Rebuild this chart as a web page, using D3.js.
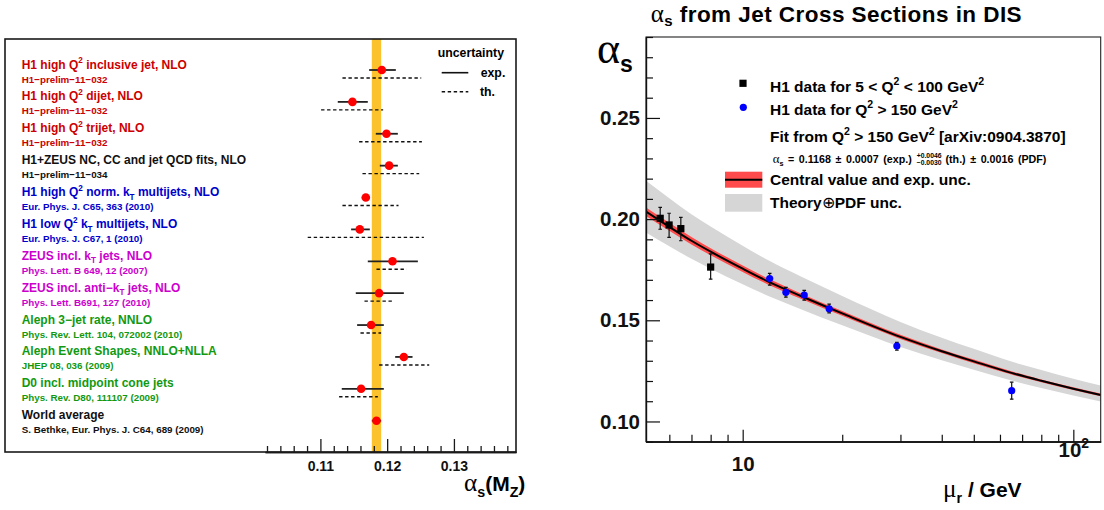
<!DOCTYPE html>
<html>
<head>
<meta charset="utf-8">
<script src="https://cdn.jsdelivr.net/npm/d3@7"></script>
<style>
  body { margin: 0; background: #fff; }
  text { font-family: "Liberation Sans", Arial, sans-serif; font-weight: bold; }
</style>
</head>
<body>
<script>
// ---- left panel: alpha_s(MZ) summary ----
let titles = [
  "H1 high Q^{2} inclusive jet, NLO",
  "H1 high Q^{2} dijet, NLO",
  "H1 high Q^{2} trijet, NLO",
  "H1+ZEUS NC, CC and jet QCD fits, NLO",
  "H1 high Q^{2} norm. k_{T} multijets, NLO",
  "H1 low Q^{2} k_{T} multijets, NLO",
  "ZEUS incl. k_{T} jets, NLO",
  "ZEUS incl. anti\u2212k_{T} jets, NLO",
  "Aleph 3\u2212jet rate, NNLO",
  "Aleph Event Shapes, NNLO+NLLA",
  "D0 incl. midpoint cone jets",
  "World average"
];
let refs = [
  "H1\u2212prelim\u221211\u2212032",
  "H1\u2212prelim\u221211\u2212032",
  "H1\u2212prelim\u221211\u2212032",
  "H1\u2212prelim\u221211\u2212034",
  "Eur. Phys. J. C65, 363 (2010)",
  "Eur. Phys. J. C67, 1 (2010)",
  "Phys. Lett. B 649, 12 (2007)",
  "Phys. Lett. B691, 127 (2010)",
  "Phys. Rev. Lett. 104, 072002 (2010)",
  "JHEP 08, 036 (2009)",
  "Phys. Rev. D80, 111107 (2009)",
  "S. Bethke, Eur. Phys. J. C64, 689 (2009)"
];
let groups = ["H1 prelim", "H1 prelim", "H1 prelim", "H1+ZEUS", "H1", "H1",
  "ZEUS", "ZEUS", "Aleph", "Aleph", "D0", "World"];
let alphaValues = [0.1192, 0.1148, 0.1199, 0.1203, 0.1168, 0.1159, 0.1208, 0.1188, 0.1176, 0.1225, 0.1161, 0.1184];
let expLow  = [0.1173, 0.1126, 0.1183, 0.1189, 0.1162, 0.1146, 0.1171, 0.1153, 0.1155, 0.1212, 0.1132, 0.1177];
let expHigh = [0.1213, 0.1171, 0.1216, 0.1216, 0.1174, 0.1174, 0.1246, 0.1225, 0.1195, 0.1238, 0.1195, 0.1191];
let thLow   = [0.1133, 0.1101, 0.1158, 0.1163, 0.1133, 0.1081, 0.1184, 0.1166, 0.1160, 0.1188, 0.1128, null];
let thHigh  = [0.1251, 0.1194, 0.1252, 0.1248, 0.1217, 0.1255, 0.1229, 0.1208, 0.1191, 0.1263, 0.1186, null];
let worldBand = [0.1177, 0.1191];
let leftMajorTicks = [0.11, 0.12, 0.13];
let leftTickLabels = ["0.11", "0.12", "0.13"];

// ---- right panel: running alpha_s ----
let lowQ2Mu    = [5.63, 5.99, 6.50, 8.00];
let lowQ2Alpha = [0.2004, 0.1971, 0.1953, 0.1763];
let lowQ2Up    = [0.2058, 0.2029, 0.2009, 0.1828];
let lowQ2Down  = [0.1950, 0.1910, 0.1893, 0.1703];
let highQ2Mu    = [12.07, 13.51, 15.35, 18.26, 29.26, 65.1];
let highQ2Alpha = [0.1706, 0.1638, 0.1625, 0.1557, 0.1373, 0.1152];
let highQ2Up    = [0.1732, 0.1663, 0.1648, 0.1580, 0.1391, 0.1194];
let highQ2Down  = [0.1674, 0.1614, 0.1600, 0.1537, 0.1353, 0.1110];
let fitMu      = [5.1, 6, 7, 8, 10, 12, 15, 20, 30, 40, 50, 65, 80, 100, 121];
let fitCentral = [0.2037, 0.1962, 0.1893, 0.1839, 0.1755, 0.1690, 0.1620, 0.1534, 0.1418, 0.1347, 0.1297, 0.1240, 0.1201, 0.1162, 0.1131];
let expBandUp  = [0.2058, 0.1982, 0.1911, 0.1856, 0.1771, 0.1705, 0.1633, 0.1546, 0.1428, 0.1356, 0.1306, 0.1248, 0.1208, 0.1169, 0.1138];
let expBandLow = [0.2016, 0.1942, 0.1875, 0.1822, 0.1739, 0.1675, 0.1607, 0.1522, 0.1408, 0.1338, 0.1288, 0.1232, 0.1194, 0.1155, 0.1124];
let thBandUp   = [0.2189, 0.2103, 0.2024, 0.1963, 0.1868, 0.1795, 0.1716, 0.1620, 0.1492, 0.1414, 0.1359, 0.1296, 0.1254, 0.1211, 0.1178];
let thBandLow  = [0.1934, 0.1866, 0.1804, 0.1755, 0.1678, 0.1619, 0.1555, 0.1475, 0.1368, 0.1302, 0.1255, 0.1202, 0.1165, 0.1128, 0.1099];
let rightMajorY = [0.10, 0.15, 0.20, 0.25];
let rightMajorX = [10, 100];
let rightMinorX = [6, 7, 8, 9, 20, 30, 40, 50, 60, 70, 80, 90];

let width = 1104;
let height = 510;

let svg = d3.select("body").append("svg")
  .attr("width", width)
  .attr("height", height);

let groupColor = d3.scaleOrdinal()
  .domain(["H1 prelim", "H1+ZEUS", "H1", "ZEUS", "Aleph", "D0", "World"])
  .range(["#cc0000", "#111111", "#0000cc", "#cc00cc", "#129912", "#129912", "#111111"]);

// text with ^{..} and _{..} and greek letters
let rich = (sel, str, fs) => {
  let parts = str.split(/(\^\{[^}]*\}|_\{[^}]*\}|α|μ|⊕)/).filter(s => s.length);
  let shift = 0;
  parts.forEach(p => {
    let t = sel.append("tspan");
    let target = 0, txt = p;
    if (p[0] === "^") { target = -0.42 * fs; txt = p.slice(2, -1); t.attr("font-size", 0.68 * fs); }
    else if (p[0] === "_") { target = 0.3 * fs; txt = p.slice(2, -1); t.attr("font-size", 0.68 * fs); }
    else if (p === "α" || p === "μ" || p === "⊕") {
      t.attr("font-family", "Liberation Serif, serif").attr("font-weight", "normal")
        .attr("font-size", (p === "⊕" ? 1.0 : 1.2) * fs);
    }
    t.attr("dy", target - shift).text(txt);
    shift = target;
  });
};

// ========== LEFT PANEL ==========
let xL, yRow;

let drawLeft = () => {
  xL = d3.scaleLinear().domain([0.1017, 0.1393]).range([265, 516]);
  yRow = d3.scalePoint().domain(d3.range(titles.length)).range([70, 420.7]);

  let g = svg.append("g");

  g.append("rect")
    .attr("x", xL(worldBand[0])).attr("y", 39)
    .attr("width", xL(worldBand[1]) - xL(worldBand[0]))
    .attr("height", 452 - 39)
    .attr("fill", "#fcc22e");

  g.append("rect")
    .attr("x", 5).attr("y", 39).attr("width", 511).attr("height", 413)
    .attr("fill", "none").attr("stroke", "#1a1a1a").attr("stroke-width", 1.6);

  // labels
  titles.forEach((t, i) => {
    let tt = g.append("text").attr("x", 21.7).attr("y", yRow(i) - 1.5)
      .attr("font-size", 12).attr("fill", groupColor(groups[i]));
    rich(tt, t, 12);
    g.append("text").attr("x", 21.7).attr("y", yRow(i) + 12.5)
      .attr("font-size", 9.8).attr("fill", groupColor(groups[i]))
      .text(refs[i]);
  });

  // theory uncertainty (dashed)
  g.selectAll("line.th")
    .data(d3.range(titles.length).filter(i => thLow[i] !== null))
    .enter().append("line").attr("class", "th")
    .attr("x1", i => xL(thLow[i])).attr("x2", i => xL(thHigh[i]))
    .attr("y1", i => yRow(i) + 8).attr("y2", i => yRow(i) + 8)
    .attr("stroke", "#111").attr("stroke-width", 1.4)
    .attr("stroke-dasharray", "3.4,2.6");

  // experimental uncertainty
  g.selectAll("line.exp")
    .data(d3.range(titles.length))
    .enter().append("line").attr("class", "exp")
    .attr("x1", i => xL(expLow[i])).attr("x2", i => xL(expHigh[i]))
    .attr("y1", i => yRow(i)).attr("y2", i => yRow(i))
    .attr("stroke", "#222").attr("stroke-width", 1.8);

  g.selectAll("circle.pt")
    .data(alphaValues)
    .enter().append("circle").attr("class", "pt")
    .attr("cx", d => xL(d)).attr("cy", (d, i) => yRow(i))
    .attr("r", 4.3).attr("fill", "#ff0000");

  // axis
  let minor = d3.range(51, 70).filter(k => k % 5 !== 0).map(k => k * 0.002);
  let axMinor = d3.axisBottom(xL).tickValues(minor).tickSize(-6).tickSizeOuter(0).tickFormat("");
  let axMajor = d3.axisBottom(xL).tickValues(leftMajorTicks).tickSize(-13).tickSizeOuter(0)
    .tickPadding(9).tickFormat((d, i) => leftTickLabels[i]);
  g.append("g").attr("transform", "translate(0,452)").call(axMinor);
  let ax = g.append("g").attr("transform", "translate(0,452)").call(axMajor);
  ax.attr("font-size", 14).attr("font-family", null);
  ax.selectAll("text").attr("font-size", 14).attr("font-weight", "bold").attr("fill", "#111");
  g.selectAll(".domain, .tick line").attr("stroke", "#1a1a1a").attr("stroke-width", 1.3);

  let lab = g.append("text").attr("x", 464).attr("y", 490.7).attr("font-size", 21);
  rich(lab, "α_{s}(M_{Z})", 21);

  // legend
  g.append("text").attr("x", 437.7).attr("y", 56.7).attr("font-size", 12.3).text("uncertainty");
  g.append("line").attr("x1", 441.7).attr("x2", 468.3).attr("y1", 72.7).attr("y2", 72.7)
    .attr("stroke", "#111").attr("stroke-width", 1.6);
  g.append("text").attr("x", 480.7).attr("y", 77).attr("font-size", 12.3).text("exp.");
  g.append("line").attr("x1", 441.7).attr("x2", 468.3).attr("y1", 91.7).attr("y2", 91.7)
    .attr("stroke", "#111").attr("stroke-width", 1.4).attr("stroke-dasharray", "3.4,2.6");
  g.append("text").attr("x", 480).attr("y", 96).attr("font-size", 12.3).text("th.");
};

// ========== RIGHT PANEL ==========
let xR, yR;

let drawRight = () => {
  xR = d3.scaleLog().domain([5.1, 121]).range([646, 1100.7]);
  yR = d3.scaleLinear().domain([0.09, 0.29]).range([441.7, 37]);

  let g = svg.append("g");

  g.append("clipPath").attr("id", "frameClip")
    .append("rect").attr("x", 646).attr("y", 37).attr("width", 454.7).attr("height", 404.7);

  let plot = g.append("g").attr("clip-path", "url(#frameClip)");

  let idx = d3.range(fitMu.length);
  let band = (lo, hi) => d3.area()
    .x(i => xR(fitMu[i])).y0(i => yR(lo[i])).y1(i => yR(hi[i]))
    .curve(d3.curveMonotoneX);

  plot.append("path").datum(idx).attr("d", band(thBandLow, thBandUp)).attr("fill", "#d6d6d6");
  plot.append("path").datum(idx).attr("d", band(expBandLow, expBandUp)).attr("fill", "#ff4b4b");
  plot.append("path").datum(idx)
    .attr("d", d3.line().x(i => xR(fitMu[i])).y(i => yR(fitCentral[i])).curve(d3.curveMonotoneX))
    .attr("fill", "none").attr("stroke", "#000").attr("stroke-width", 2);

  // error bars
  let drawErr = (mu, up, down) => {
    let eg = plot.append("g");
    mu.forEach((m, i) => {
      eg.append("line").attr("x1", xR(m)).attr("x2", xR(m))
        .attr("y1", yR(up[i])).attr("y2", yR(down[i]))
        .attr("stroke", "#111").attr("stroke-width", 1.2);
      [up[i], down[i]].forEach(v => {
        eg.append("line").attr("x1", xR(m) - 1.8).attr("x2", xR(m) + 1.8)
          .attr("y1", yR(v)).attr("y2", yR(v))
          .attr("stroke", "#111").attr("stroke-width", 1.2);
      });
    });
  };
  drawErr(lowQ2Mu, lowQ2Up, lowQ2Down);
  drawErr(highQ2Mu, highQ2Up, highQ2Down);

  plot.selectAll("rect.sq").data(lowQ2Mu).enter().append("rect").attr("class", "sq")
    .attr("x", d => xR(d) - 3.6).attr("y", (d, i) => yR(lowQ2Alpha[i]) - 3.6)
    .attr("width", 7.2).attr("height", 7.2).attr("fill", "#000");
  plot.selectAll("circle.bl").data(highQ2Mu).enter().append("circle").attr("class", "bl")
    .attr("cx", d => xR(d)).attr("cy", (d, i) => yR(highQ2Alpha[i]))
    .attr("r", 3.6).attr("fill", "#0000ff");

  // frame
  g.append("rect").attr("x", 646).attr("y", 37).attr("width", 454.7).attr("height", 404.7)
    .attr("fill", "none").attr("stroke", "#222").attr("stroke-width", 1.1);

  // axes
  let yMinor = d3.range(9, 30).filter(k => k % 5 !== 0).map(k => k / 100);
  g.append("g").attr("transform", "translate(646,0)")
    .call(d3.axisLeft(yR).tickValues(yMinor).tickSize(-7).tickSizeOuter(0).tickFormat(""));
  let ay = g.append("g").attr("transform", "translate(646,0)")
    .call(d3.axisLeft(yR).tickValues(rightMajorY).tickSize(-14).tickSizeOuter(0)
      .tickPadding(6).tickFormat(d3.format(".2f")));
  ay.attr("font-family", null).attr("font-size", 20.5);
  ay.selectAll("text").attr("font-size", 20.5);

  g.append("g").attr("transform", "translate(0,441.7)")
    .call(d3.axisBottom(xR).tickValues(rightMinorX).tickSize(-7).tickSizeOuter(0).tickFormat(""));
  let ax = g.append("g").attr("transform", "translate(0,441.7)")
    .call(d3.axisBottom(xR).tickValues(rightMajorX).tickSize(-12).tickSizeOuter(0)
      .tickPadding(15).tickFormat(d => d === 100 ? "" : d3.format("d")(d)));
  ax.attr("font-family", null).attr("font-size", 20.5);
  ax.selectAll("text").attr("font-size", 20.5);
  ax.selectAll(".tick").filter(d => d === 100).select("text")
    .each(function () { rich(d3.select(this), "10^{2}", 20.5); });
  g.selectAll(".domain, .tick line").attr("stroke", "#111").attr("stroke-width", 1.2);
  g.selectAll(".tick text").attr("font-weight", "bold").attr("fill", "#111");

  let xt = g.append("text").attr("x", 943).attr("y", 496.7).attr("font-size", 21);
  rich(xt, "μ_{r} / GeV", 21);

  let yt = g.append("text").attr("x", 597).attr("y", 63).attr("font-size", 38);
  yt.append("tspan").attr("font-family", "Liberation Serif, serif").attr("font-weight", "normal")
    .attr("font-size", 44).text("α");
  yt.append("tspan").attr("font-size", 23).attr("dy", 8.7).text("s");

  let title = g.append("text").attr("x", 650.7).attr("y", 21.5).attr("font-size", 22.5)
    .attr("letter-spacing", 0.45);
  title.append("tspan").attr("font-family", "Liberation Serif, serif").attr("font-weight", "normal")
    .attr("font-size", 25).text("α");
  title.append("tspan").attr("font-size", 15).attr("dy", 4).text("s");
  title.append("tspan").attr("dy", -4).text(" from Jet Cross Sections in DIS");

  // legend
  g.append("rect").attr("x", 743 - 3.6).attr("y", 83.3 - 3.6).attr("width", 7.2).attr("height", 7.2).attr("fill", "#000");
  g.append("circle").attr("cx", 743.3).attr("cy", 107.3).attr("r", 3.6).attr("fill", "#0000ff");
  let l1 = g.append("text").attr("x", 770).attr("y", 91.5).attr("font-size", 15.5);
  rich(l1, "H1 data for 5 < Q^{2} < 100 GeV^{2}", 15.5);
  let l2 = g.append("text").attr("x", 770).attr("y", 114.8).attr("font-size", 15.5);
  rich(l2, "H1 data for Q^{2} > 150 GeV^{2}", 15.5);
  let l3 = g.append("text").attr("x", 770).attr("y", 141.5).attr("font-size", 15.5);
  rich(l3, "Fit from Q^{2} > 150 GeV^{2} [arXiv:0904.3870]", 15.5);

  // fit result line, pieces laid out one after another
  let fs = 10.7, fx = 772.7, fy = 162.5;
  let f1 = g.append("text").attr("x", fx).attr("y", fy).attr("font-size", fs).attr("word-spacing", 1.6);
  rich(f1, "α_{s} = 0.1168 ± 0.0007 (exp.)", fs);
  let sx = fx + f1.node().getComputedTextLength() + 5;
  let s1 = g.append("text").attr("x", sx).attr("y", fy - 5).attr("font-size", 6.8).text("+0.0046");
  let s2 = g.append("text").attr("x", sx).attr("y", fy + 2).attr("font-size", 6.8).text("\u22120.0030");
  let sw = Math.max(s1.node().getComputedTextLength(), s2.node().getComputedTextLength());
  let f2 = g.append("text").attr("x", sx + sw + 4).attr("y", fy).attr("font-size", fs).attr("word-spacing", 1.6);
  rich(f2, "(th.) ± 0.0016 (PDF)", fs);

  g.append("rect").attr("x", 725).attr("y", 171.7).attr("width", 37.3).attr("height", 16).attr("fill", "#ff4b4b");
  g.append("line").attr("x1", 725).attr("x2", 762.3).attr("y1", 179.7).attr("y2", 179.7)
    .attr("stroke", "#000").attr("stroke-width", 2);
  g.append("text").attr("x", 770).attr("y", 185.3).attr("font-size", 15.5).text("Central value and exp. unc.");
  g.append("rect").attr("x", 725).attr("y", 194).attr("width", 37.3).attr("height", 17.7).attr("fill", "#d6d6d6");
  let l5 = g.append("text").attr("x", 770).attr("y", 207.5).attr("font-size", 15.5);
  rich(l5, "Theory⊕PDF unc.", 15.5);
};

drawLeft();
drawRight();
</script>
</body>
</html>
